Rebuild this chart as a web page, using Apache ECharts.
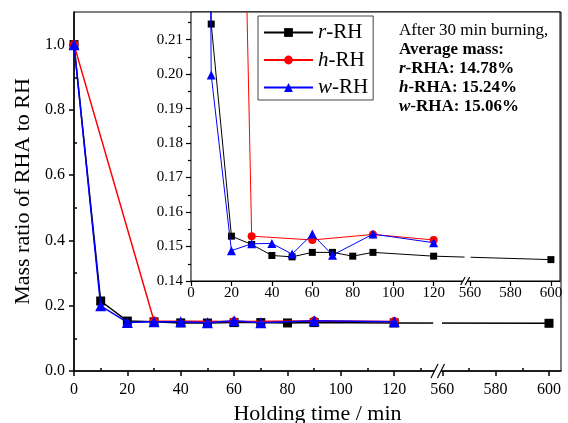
<!DOCTYPE html>
<html>
<head>
<meta charset="utf-8">
<script src="https://cdn.jsdelivr.net/npm/echarts@6/dist/echarts.min.js"></script>
<style>
  html, body { margin: 0; padding: 0; background: #fff; }
  #chart { width: 568px; height: 423px; }
</style>
</head>
<body>
<div id="chart"></div>
<script>
// holding time (min) and mass ratio
var rTime = [0, 10, 20, 30, 40, 50, 60, 70, 80, 90, 120, 600];
var rMass = [1.0, 0.2145, 0.1530, 0.1506, 0.1474, 0.1470, 0.1483, 0.1483, 0.1472, 0.1483, 0.1472, 0.1462];
var hTime = [0, 30, 60, 90, 120];
var hMass = [1.0, 0.1530, 0.1519, 0.1535, 0.1519];
var wTime = [0, 10, 20, 30, 40, 50, 60, 70, 90, 120];
var wMass = [1.0, 0.1997, 0.1488, 0.1508, 0.1509, 0.1478, 0.1536, 0.1475, 0.1536, 0.1511];

var xTicks = [0, 20, 40, 60, 80, 100, 120, 560, 580, 600];
var xMinorTicks = [10, 30, 50, 70, 90, 110, 130, 570, 590];
var yMainTicks = [0, 0.2, 0.4, 0.6, 0.8, 1.0];
var yMainMinor = [0.1, 0.3, 0.5, 0.7, 0.9];
var yInsetTicks = [0.14, 0.15, 0.16, 0.17, 0.18, 0.19, 0.20, 0.21];
var yInsetMinor = [0.145, 0.155, 0.165, 0.175, 0.185, 0.195, 0.205, 0.215];

var FONT = "'Liberation Serif', 'Times New Roman', serif";
var BR = 138;      // where 560 sits on the compressed axis
var XMAX = 182.5;

// broken axis: 120..560 is squeezed
function vx(t) { return t > 130 ? t - 560 + BR : t; }
function back(v) { return v > 130 ? Math.round(v - BR + 560) : Math.round(v); }
function pts(ts, ms) { return ts.map(function (t, i) { return [vx(t), ms[i]]; }); }

var chart = echarts.init(document.getElementById('chart'));

function xAxes(grid, fs, margin, lw, name) {
  return [{
    type: 'value', gridIndex: grid, position: 'bottom', min: 0, max: XMAX,
    name: name || '', nameLocation: 'middle', nameGap: 28,
    nameTextStyle: { fontFamily: FONT, fontSize: 22, color: '#000' },
    axisLine: { show: true, onZero: false, lineStyle: { color: '#000', width: lw } },
    axisTick: { show: true, customValues: xTicks.map(vx), length: 5, lineStyle: { color: '#000', width: lw } },
    axisLabel: { customValues: xTicks.map(vx), formatter: function (v) { return String(back(v)); },
      fontFamily: FONT, fontSize: fs, color: '#000', margin: margin },
    splitLine: { show: false }
  }, {
    type: 'value', gridIndex: grid, position: 'bottom', min: 0, max: XMAX,
    axisLine: { show: false },
    axisTick: { show: true, inside: true, customValues: xMinorTicks.map(vx), length: 3, lineStyle: { color: '#000', width: lw } },
    axisLabel: { show: false },
    splitLine: { show: false }
  }];
}

function yAxes(grid, min, max, major, minor, fs, margin, lw, fmt, minorInside, name) {
  return [{
    type: 'value', gridIndex: grid, min: min, max: max,
    name: name || '', nameLocation: 'middle', nameGap: 35,
    nameTextStyle: { fontFamily: FONT, fontSize: 22, color: '#000' },
    axisLine: { show: true, onZero: false, lineStyle: { color: '#000', width: lw } },
    axisTick: { show: true, customValues: major, length: 5, lineStyle: { color: '#000', width: lw } },
    axisLabel: { customValues: major, formatter: function (v) { return v.toFixed(fmt); },
      fontFamily: FONT, fontSize: fs, color: '#000', margin: margin },
    splitLine: { show: false }
  }, {
    type: 'value', gridIndex: grid, min: min, max: max,
    axisLine: { show: false },
    axisTick: { show: true, inside: minorInside, customValues: minor, length: 3, lineStyle: { color: '#000', width: lw } },
    axisLabel: { show: false },
    splitLine: { show: false }
  }];
}

function series(name, data, color, symbol, size, lw, xi, yi, z) {
  return {
    name: name, type: 'line', data: data, xAxisIndex: xi, yAxisIndex: yi,
    symbol: symbol, symbolSize: size, showAllSymbol: true, clip: true, z: z,
    lineStyle: { color: color, width: lw },
    itemStyle: { color: color },
    emphasis: { disabled: true },
    animation: false
  };
}

chart.setOption({
  animation: false,
  backgroundColor: '#fff',
  grid: [
    { left: 74, right: 7, top: 12, bottom: 52, outerBoundsMode: 'none', show: true, borderColor: '#000', borderWidth: 1, backgroundColor: 'transparent' },
    { left: 191, right: 8, top: 12, bottom: 142, outerBoundsMode: 'none', show: true, borderColor: '#000', borderWidth: 1, backgroundColor: '#fff', z: 3 }
  ],
  xAxis: xAxes(0, 16, 11, 1.5, 'Holding time / min').concat(xAxes(1, 15, 5, 1.2)),
  yAxis: yAxes(0, 0, 1.1, yMainTicks, yMainMinor, 16, 9, 1.5, 1, false, 'Mass ratio of RHA to RH')
    .concat(yAxes(1, 0.14, 0.218, yInsetTicks, yInsetMinor, 15, 8, 1.2, 2, true)),
  legend: {
    left: 258, top: 16, orient: 'vertical',
    data: ['r-RH', 'h-RH', 'w-RH'],
    itemWidth: 49, itemHeight: 11, itemGap: 6.5,
    padding: [6, 5, 2, 5],
    borderColor: '#444', borderWidth: 1, backgroundColor: '#fff',
    formatter: function (n) { return '{i|' + n.charAt(0) + '}' + n.slice(1); },
    textStyle: {
      fontFamily: FONT, fontSize: 21, color: '#000', lineHeight: 20,
      rich: { i: { fontFamily: FONT, fontSize: 21, fontStyle: 'italic', color: '#000', lineHeight: 20 } }
    },
    selectedMode: false
  },
  series: [
    series('r-RH', pts(rTime, rMass), '#000', 'rect', 9, 1.5, 0, 0, 2),
    series('h-RH', pts(hTime, hMass), '#ff0000', 'circle', 9, 1.5, 0, 0, 3),
    series('w-RH', pts(wTime, wMass), '#0000ff', 'triangle', 11, 1.5, 0, 0, 4),
    series('r-RH', pts(rTime, rMass), '#000', 'rect', 7, 1, 2, 2, 5),
    series('h-RH', pts(hTime, hMass), '#ff0000', 'circle', 8, 1, 2, 2, 6),
    series('w-RH', pts(wTime, wMass), '#0000ff', 'triangle', 9, 1, 2, 2, 7)
  ]
});

// axis break marks and the gap in the line, placed through the axes
function brk(xi, yi, v, ybase, yLine, h, w, sep, g0, g1, gh) {
  var x = chart.convertToPixel({ xAxisIndex: xi }, v);
  var y = chart.convertToPixel({ yAxisIndex: yi }, ybase);
  var yl = chart.convertToPixel({ yAxisIndex: yi }, yLine);
  var xa = chart.convertToPixel({ xAxisIndex: xi }, g0);
  var xb = chart.convertToPixel({ xAxisIndex: xi }, g1);
  return [
    { type: 'rect', z: 100, shape: { x: xa, y: yl - gh, width: xb - xa, height: 2 * gh }, style: { fill: '#fff' } },
    { type: 'rect', z: 100, shape: { x: x - sep / 2, y: y - 2, width: sep, height: 4 }, style: { fill: '#fff' } },
    { type: 'line', z: 101, shape: { x1: x - sep / 2 - w / 2, y1: y + h / 2, x2: x - sep / 2 + w / 2, y2: y - h / 2 }, style: { stroke: '#000', lineWidth: 1.2 } },
    { type: 'line', z: 101, shape: { x1: x + sep / 2 - w / 2, y1: y + h / 2, x2: x + sep / 2 + w / 2, y2: y - h / 2 }, style: { stroke: '#000', lineWidth: 1.2 } }
  ];
}

var g = brk(0, 0, 136.3, 0, 0.1467, 14, 7, 6.5, 134.6, 137.9, 5)
  .concat(brk(2, 2, 135.6, 0.14, 0.1466, 8, 4.5, 4.5, 135.3, 138.3, 4));

g.push({
  type: 'text', z: 110, left: 399, top: 21,
  style: {
    text: 'After 30 min burning,\n{b|Average mass:}\n{bi|r}{b|-RHA: 14.78%}\n{bi|h}{b|-RHA: 15.24%}\n{bi|w}{b|-RHA: 15.06%}',
    fontFamily: FONT, fontSize: 17, lineHeight: 19, fill: '#000',
    rich: {
      b: { fontFamily: FONT, fontSize: 17, lineHeight: 19, fontWeight: 'bold', fill: '#000' },
      bi: { fontFamily: FONT, fontSize: 17, lineHeight: 19, fontWeight: 'bold', fontStyle: 'italic', fill: '#000' }
    }
  }
});

chart.setOption({ graphic: g });
</script>
</body>
</html>
